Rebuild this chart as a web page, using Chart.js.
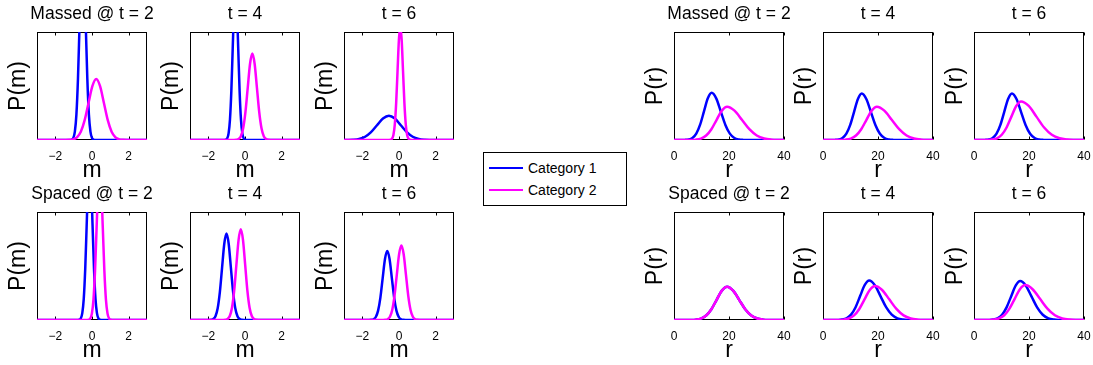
<!DOCTYPE html>
<html><head><meta charset="utf-8">
<script src="https://cdn.jsdelivr.net/npm/chart.js@4.4.0/dist/chart.umd.min.js"></script>
<style>
html,body{margin:0;padding:0;background:#fff;overflow:hidden;}
#wrap{position:relative;width:1093px;height:365px;overflow:hidden;background:#fff;font-family:"Liberation Sans",Arial,sans-serif;}
#wrap canvas{position:absolute;}
#legend{position:absolute;left:483px;top:152px;width:142px;height:52px;border:1px solid #000;background:#fff;}
.sw{position:absolute;height:0;border-top:2.5px solid;}
.lab{position:absolute;white-space:nowrap;font-size:14px;line-height:16px;color:#000;}
</style></head>
<body><div id="wrap"></div>
<script>
const categories = ['Category 1', 'Category 2'];
const seriesColors = ['#0000ff', '#ff00ff'];
const panelTitles = ['Massed @ t = 2', 't = 4', 't = 6', 'Spaced @ t = 2', 't = 4', 't = 6'];
const mTicks = [-2, 0, 2];
const mTickLabels = ['\u22122', '0', '2'];
const rTicks = [0, 20, 40];
const rTickLabels = ['0', '20', '40'];

// P(m) curves, values (y normalised to panel height)
const massedM_t2_cat1 = [[-3,0],[-1.19,0.0005],[-1.105,0.004],[-1.02,0.019],[-0.935,0.077],[-0.85,0.237],[-0.765,0.568],[-0.68,1.061],[-0.595,1.544],[-0.51,1.75],[-0.425,1.544],[-0.34,1.061],[-0.255,0.568],[-0.17,0.237],[-0.085,0.077],[0,0.019],[0.085,0.004],[0.17,0.0005],[3,0]];
const massedM_t2_cat2 = [[-3,0],[-1.45,0.0002],[-1.24,0.0012],[-1.03,0.0063],[-0.82,0.0248],[-0.61,0.0765],[-0.4,0.1835],[-0.19,0.3427],[0.02,0.4986],[0.23,0.565],[0.44,0.4986],[0.65,0.3427],[0.86,0.1835],[1.07,0.0765],[1.28,0.0248],[1.49,0.0063],[1.7,0.0012],[1.91,0.0002],[3,0]];
const massedM_t4_cat1 = [[-3,0],[-1.12,0.0004],[-1.045,0.003],[-0.97,0.0155],[-0.895,0.061],[-0.82,0.189],[-0.745,0.455],[-0.67,0.849],[-0.595,1.236],[-0.52,1.4],[-0.445,1.236],[-0.37,0.849],[-0.295,0.455],[-0.22,0.189],[-0.145,0.061],[-0.07,0.0155],[0.005,0.003],[0.08,0.0004],[3,0]];
const massedM_t4_cat2 = [[-3,0],[-0.6,0.0003],[-0.475,0.0018],[-0.35,0.0089],[-0.225,0.035],[-0.1,0.108],[0.025,0.26],[0.15,0.485],[0.275,0.706],[0.4,0.8],[0.525,0.706],[0.65,0.485],[0.775,0.26],[0.9,0.108],[1.025,0.035],[1.15,0.0089],[1.275,0.0018],[1.4,0.0003],[3,0]];
const massedM_t6_cat1 = [[-3,0.0002],[-2.825,0.0005],[-2.5,0.0025],[-2.175,0.0099],[-1.85,0.0304],[-1.525,0.0731],[-1.2,0.1365],[-0.875,0.1986],[-0.55,0.225],[-0.225,0.1986],[0.1,0.1365],[0.425,0.0731],[0.75,0.0304],[1.075,0.0099],[1.4,0.0025],[1.725,0.0005],[2.05,0.0001],[3,0]];
const massedM_t6_cat2 = [[-3,0],[-0.53,0.0003],[-0.455,0.0023],[-0.38,0.0117],[-0.305,0.046],[-0.23,0.142],[-0.155,0.341],[-0.08,0.637],[-0.005,0.927],[0.07,1.05],[0.145,0.927],[0.22,0.637],[0.295,0.341],[0.37,0.142],[0.445,0.046],[0.52,0.0117],[0.595,0.0023],[0.67,0.0003],[3,0]];
const spacedM_t2_cat1 = [[-3,0],[-0.77,0.0005],[-0.69,0.003],[-0.61,0.016],[-0.53,0.064],[-0.45,0.196],[-0.37,0.471],[-0.29,0.879],[-0.21,1.28],[-0.13,1.45],[-0.05,1.28],[0.03,0.879],[0.11,0.471],[0.19,0.196],[0.27,0.064],[0.35,0.016],[0.43,0.003],[0.51,0.0005],[3,0]];
const spacedM_t2_cat2 = [[-3,0],[-0.26,0.0004],[-0.175,0.003],[-0.09,0.0155],[-0.005,0.061],[0.08,0.189],[0.165,0.455],[0.25,0.849],[0.335,1.236],[0.42,1.4],[0.505,1.236],[0.59,0.849],[0.675,0.455],[0.76,0.189],[0.845,0.061],[0.93,0.0155],[1.015,0.003],[1.1,0.0004],[3,0]];
const spacedM_t4_cat1 = [[-3,0],[-1.97,0.0003],[-1.85,0.0018],[-1.73,0.0089],[-1.61,0.035],[-1.49,0.108],[-1.37,0.26],[-1.25,0.485],[-1.13,0.706],[-1.01,0.8],[-0.89,0.706],[-0.77,0.485],[-0.65,0.26],[-0.53,0.108],[-0.41,0.035],[-0.29,0.0089],[-0.17,0.0018],[-0.05,0.0003],[3,0]];
const spacedM_t4_cat2 = [[-3,0],[-1.19,0.0003],[-1.07,0.0018],[-0.95,0.0093],[-0.83,0.0369],[-0.71,0.1137],[-0.59,0.2727],[-0.47,0.5095],[-0.35,0.7413],[-0.23,0.84],[-0.11,0.7413],[0.01,0.5095],[0.13,0.2727],[0.25,0.1137],[0.37,0.0369],[0.49,0.0093],[0.61,0.0018],[0.73,0.0003],[3,0]];
const spacedM_t6_cat1 = [[-3,0],[-1.64,0.0002],[-1.515,0.0014],[-1.39,0.0071],[-1.265,0.0281],[-1.14,0.0866],[-1.015,0.2078],[-0.89,0.3882],[-0.765,0.5648],[-0.64,0.64],[-0.515,0.5648],[-0.39,0.3882],[-0.265,0.2078],[-0.14,0.0866],[-0.015,0.0281],[0.11,0.0071],[0.235,0.0014],[0.36,0.0002],[3,0]];
const spacedM_t6_cat2 = [[-3,0],[-0.87,0.0002],[-0.745,0.0015],[-0.62,0.0077],[-0.495,0.0303],[-0.37,0.0934],[-0.245,0.224],[-0.12,0.4185],[0.005,0.609],[0.13,0.69],[0.255,0.609],[0.38,0.4185],[0.505,0.224],[0.63,0.0934],[0.755,0.0303],[0.88,0.0077],[1.005,0.0015],[1.13,0.0002],[3,0]];

// P(r) curves
const massedR_t2_cat1 = [[0,0],[2.5,0.0001],[3.9,0.001],[5.3,0.0049],[6.7,0.0192],[8.1,0.0591],[9.5,0.1419],[10.9,0.265],[12.3,0.3857],[13.7,0.437],[15.35,0.3857],[17.0,0.265],[18.65,0.1419],[20.3,0.0591],[21.95,0.0192],[23.6,0.0049],[25.25,0.001],[26.9,0.0001],[40,0]];
const massedR_t2_cat2 = [[0,0],[4.1,0.0001],[6.0,0.0007],[7.9,0.0034],[9.8,0.0135],[11.7,0.0417],[13.6,0.1],[15.5,0.1868],[17.4,0.2718],[19.3,0.308],[22.0,0.2718],[24.7,0.1868],[27.4,0.1],[30.1,0.0417],[32.8,0.0135],[35.5,0.0034],[38.2,0.0007],[40,0.0003]];
const massedR_t4_cat1 = [[0,0],[2.9,0.0001],[4.3,0.0009],[5.7,0.0048],[7.1,0.0189],[8.5,0.0582],[9.9,0.1396],[11.3,0.2608],[12.7,0.3795],[14.1,0.43],[15.75,0.3795],[17.4,0.2608],[19.05,0.1396],[20.7,0.0582],[22.35,0.0189],[24.0,0.0048],[25.65,0.0009],[27.3,0.0001],[40,0]];
const massedR_t4_cat2 = [[0,0],[4.4,0.0001],[6.3,0.0007],[8.2,0.0034],[10.1,0.0135],[12.0,0.0417],[13.9,0.1],[15.8,0.1868],[17.7,0.2718],[19.6,0.308],[22.3,0.2718],[25.0,0.1868],[27.7,0.1],[30.4,0.0417],[33.1,0.0135],[35.8,0.0034],[38.5,0.0007],[40,0.0002]];
const massedR_t6_cat1 = [[0,0],[2.6,0.0001],[4.0,0.0009],[5.4,0.0048],[6.8,0.0189],[8.2,0.0582],[9.6,0.1396],[11.0,0.2608],[12.4,0.3795],[13.8,0.43],[15.45,0.3795],[17.1,0.2608],[18.75,0.1396],[20.4,0.0582],[22.05,0.0189],[23.7,0.0048],[25.35,0.0009],[27.0,0.0001],[40,0]];
const massedR_t6_cat2 = [[0,0],[3.1,0.0001],[4.85,0.0008],[6.6,0.004],[8.35,0.0157],[10.1,0.0483],[11.85,0.1159],[13.6,0.2165],[15.35,0.315],[17.1,0.357],[19.9,0.315],[22.7,0.2165],[25.5,0.1159],[28.3,0.0483],[31.1,0.0157],[33.9,0.004],[36.7,0.0008],[39.5,0.0001],[40,0]];
const spacedR_t2_cat1 = [[0,0],[4.1,0.0001],[6.0,0.0007],[7.9,0.0034],[9.8,0.0135],[11.7,0.0417],[13.6,0.1],[15.5,0.1868],[17.4,0.2718],[19.3,0.308],[21.5,0.2718],[23.7,0.1868],[25.9,0.1],[28.1,0.0417],[30.3,0.0135],[32.5,0.0034],[34.7,0.0007],[36.9,0.0001],[40,0]];
const spacedR_t2_cat2 = [[0,0],[4.1,0.0001],[6.0,0.0007],[7.9,0.0034],[9.8,0.0135],[11.7,0.0417],[13.6,0.1],[15.5,0.1868],[17.4,0.2718],[19.3,0.308],[21.5,0.2718],[23.7,0.1868],[25.9,0.1],[28.1,0.0417],[30.3,0.0135],[32.5,0.0034],[34.7,0.0007],[36.9,0.0001],[40,0]];
const spacedR_t4_cat1 = [[0,0],[3.6,0.0001],[5.25,0.0008],[6.9,0.0041],[8.55,0.016],[10.2,0.0494],[11.85,0.1185],[13.5,0.2214],[15.15,0.3221],[16.8,0.365],[18.85,0.3221],[20.9,0.2214],[22.95,0.1185],[25.0,0.0494],[27.05,0.016],[29.1,0.0041],[31.15,0.0008],[33.2,0.0001],[40,0]];
const spacedR_t4_cat2 = [[0,0],[3.7,0.0001],[5.6,0.0007],[7.5,0.0035],[9.4,0.0138],[11.3,0.0426],[13.2,0.1023],[15.1,0.191],[17.0,0.278],[18.9,0.315],[21.5,0.278],[24.1,0.191],[26.7,0.1023],[29.3,0.0426],[31.9,0.0138],[34.5,0.0035],[37.1,0.0007],[39.7,0.0001],[40,0]];
const spacedR_t6_cat1 = [[0,0],[3.6,0.0001],[5.25,0.0008],[6.9,0.004],[8.55,0.0158],[10.2,0.0487],[11.85,0.1169],[13.5,0.2183],[15.15,0.3177],[16.8,0.36],[18.85,0.3177],[20.9,0.2183],[22.95,0.1169],[25.0,0.0487],[27.05,0.0158],[29.1,0.004],[31.15,0.0008],[33.2,0.0001],[40,0]];
const spacedR_t6_cat2 = [[0,0],[3.4,0.0001],[5.3,0.0007],[7.2,0.0036],[9.1,0.0142],[11.0,0.0437],[12.9,0.1049],[14.8,0.1959],[16.7,0.285],[18.6,0.323],[21.3,0.285],[24.0,0.1959],[26.7,0.1049],[29.4,0.0437],[32.1,0.0142],[34.8,0.0036],[37.5,0.0007],[40,0.0001]];

// layout (plot-area left/top in page pixels)
const plotLefts = [37, 190, 344, 674, 823, 974];
const plotTops = [32, 212];
const PW = 110, PH = 108, YW = 40, TH = 32, XH = 48, RP = 40;

const panels = [
  {col:0,row:0,v:'m',t:0,c1:massedM_t2_cat1,c2:massedM_t2_cat2},
  {col:1,row:0,v:'m',t:1,c1:massedM_t4_cat1,c2:massedM_t4_cat2},
  {col:2,row:0,v:'m',t:2,c1:massedM_t6_cat1,c2:massedM_t6_cat2},
  {col:0,row:1,v:'m',t:3,c1:spacedM_t2_cat1,c2:spacedM_t2_cat2},
  {col:1,row:1,v:'m',t:4,c1:spacedM_t4_cat1,c2:spacedM_t4_cat2},
  {col:2,row:1,v:'m',t:5,c1:spacedM_t6_cat1,c2:spacedM_t6_cat2},
  {col:3,row:0,v:'r',t:0,c1:massedR_t2_cat1,c2:massedR_t2_cat2},
  {col:4,row:0,v:'r',t:1,c1:massedR_t4_cat1,c2:massedR_t4_cat2},
  {col:5,row:0,v:'r',t:2,c1:massedR_t6_cat1,c2:massedR_t6_cat2},
  {col:3,row:1,v:'r',t:3,c1:spacedR_t2_cat1,c2:spacedR_t2_cat2},
  {col:4,row:1,v:'r',t:4,c1:spacedR_t4_cat1,c2:spacedR_t4_cat2},
  {col:5,row:1,v:'r',t:5,c1:spacedR_t6_cat1,c2:spacedR_t6_cat2}
];

const FONT = '"Liberation Sans", Arial, Helvetica, sans-serif';
Chart.defaults.font.family = FONT;
Chart.defaults.color = '#000';

const boxPlugin = {
  id: 'matlabBox',
  beforeDatasetsDraw(chart) {
    const {ctx, chartArea: a} = chart;
    const x = chart.scales.x;
    ctx.save();
    ctx.strokeStyle = '#000';
    ctx.lineWidth = 1;
    const L = Math.round(a.left) + 0.5, T = Math.round(a.top) + 0.5;
    const R = Math.round(a.right) - 0.5, B = Math.round(a.bottom) - 0.5;
    ctx.strokeRect(L, T, R - L, B - T);
    ctx.beginPath();
    x.ticks.forEach(t => {
      const px = Math.round(x.getPixelForValue(t.value)) + 0.5;
      ctx.moveTo(px, T); ctx.lineTo(px, T + 3);
      ctx.moveTo(px, B); ctx.lineTo(px, B - 3);
    });
    ctx.stroke();
    ctx.restore();
  }
};

const wrap = document.getElementById('wrap');
const toXY = arr => arr.map(([x, y]) => ({x, y}));

panels.forEach(p => {
  const cv = document.createElement('canvas');
  const W = YW + PW + RP, H = TH + PH + XH;
  cv.width = W; cv.height = H;
  cv.style.width = W + 'px'; cv.style.height = H + 'px';
  cv.style.left = (plotLefts[p.col] - YW) + 'px';
  cv.style.top = (plotTops[p.row] - TH) + 'px';
  wrap.appendChild(cv);
  const isM = p.v === 'm';
  const tickVals = isM ? mTicks : rTicks;
  const tickLabs = isM ? mTickLabels : rTickLabels;
  new Chart(cv, {
    type: 'line',
    data: {
      datasets: [
        {label: categories[0], data: toXY(p.c1), borderColor: seriesColors[0], order: 1},
        {label: categories[1], data: toXY(p.c2), borderColor: seriesColors[1], order: 0}
      ]
    },
    options: {
      responsive: false,
      animation: false,
      devicePixelRatio: 1,
      events: [],
      layout: {padding: 0},
      elements: {
        point: {radius: 0},
        line: {borderWidth: 2.5, cubicInterpolationMode: 'monotone', fill: false}
      },
      plugins: {
        legend: {display: false},
        tooltip: {enabled: false},
        title: {
          display: true, fullSize: true, text: panelTitles[p.t], color: '#000',
          font: {size: 17.5, weight: 'normal', lineHeight: 1.2},
          padding: {top: 3.4, bottom: 7.6}
        }
      },
      scales: {
        x: {
          type: 'linear', min: isM ? -3 : 0, max: isM ? 3 : 40,
          afterBuildTicks: s => { s.ticks = tickVals.map(v => ({value: v})); },
          ticks: {callback: (v, i) => tickLabs[i], font: {size: 12}, color: '#000', padding: 9, maxRotation: 0, autoSkip: false},
          grid: {display: false, drawTicks: false},
          border: {display: false},
          title: {display: true, text: p.v, color: '#000', font: {size: 23, lineHeight: 1}, padding: {top: 0, bottom: 5.5}},
          afterFit: s => { s.height = XH; }
        },
        y: {
          min: 0, max: 1,
          ticks: {display: false},
          grid: {display: false, drawTicks: false},
          border: {display: false},
          title: {display: true, text: 'P(' + p.v + ')', color: '#000', font: {size: 23, lineHeight: 1}, padding: {top: 10, bottom: 0}},
          afterFit: s => { s.width = YW; }
        },
        yRight: {
          position: 'right', min: 0, max: 1,
          ticks: {display: false},
          grid: {display: false, drawTicks: false},
          border: {display: false},
          afterFit: s => { s.width = RP; }
        }
      }
    },
    plugins: [boxPlugin]
  });
});

// legend
const leg = document.createElement('div');
leg.id = 'legend';
wrap.appendChild(leg);
categories.forEach((c, i) => {
  const y = 168 + i * 22;
  const sw = document.createElement('div');
  sw.className = 'sw';
  sw.style.left = '489px'; sw.style.width = '34px';
  sw.style.top = (y - 1) + 'px';
  sw.style.borderTopColor = seriesColors[i];
  wrap.appendChild(sw);
  const lb = document.createElement('div');
  lb.className = 'lab';
  lb.style.left = '528px'; lb.style.top = (y - 8) + 'px';
  lb.textContent = c;
  wrap.appendChild(lb);
});
</script>
</body></html>
